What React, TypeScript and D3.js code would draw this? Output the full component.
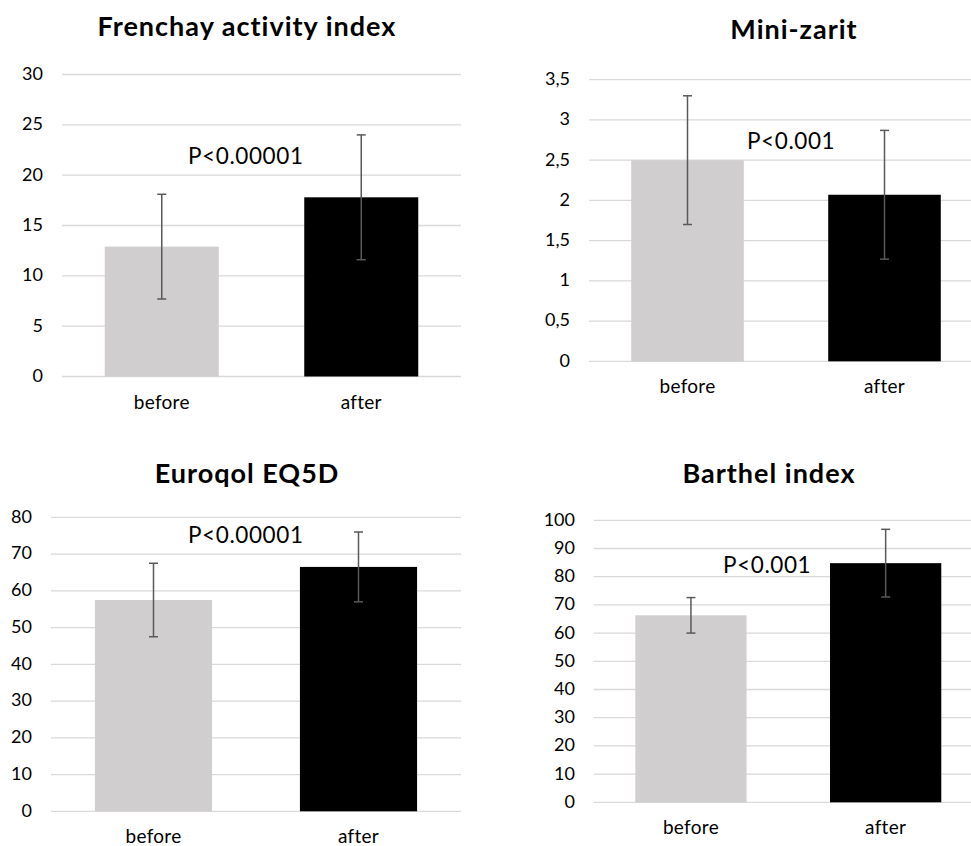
import React from "react";
import * as d3 from "d3";

const categories = ["before", "after"];

const frenchayMeans = [12.9, 17.8];
const frenchaySD = [5.2, 6.2];
const zaritMeans = [2.5, 2.07];
const zaritSD = [0.8, 0.8];
const euroqolMeans = [57.5, 66.5];
const euroqolSD = [10, 9.5];
const barthelMeans = [66.3, 84.8];
const barthelSD = [6.3, 12];

const titles = ["Frenchay activity index", "Mini-zarit", "Euroqol EQ5D", "Barthel index"];
const pLabels = ["P<0.00001", "P<0.001", "P<0.00001", "P<0.001"];
const yMaxes = [30, 3.5, 80, 100];
const yTickSteps = [5, 0.5, 10, 10];

const barColors = ["#D0CECE", "#000000"];
const FONT = "Lato, 'Noto Sans', sans-serif";

const commaLocale = d3.formatLocale({ decimal: ",", thousands: ".", grouping: [3], currency: ["", ""] });
const fmt = commaLocale.format(".1~f");

type Layout = {
  x0: number; x1: number; yTop: number; yBottom: number;
  titleX: number; titleY: number; tickRight: number;
  pX: number; pY: number; catY: number;
};

const layouts: Layout[] = [
  { x0: 62, x1: 461, yTop: 74.5, yBottom: 376.5, titleX: 247, titleY: 36, tickRight: 43, pX: 188, pY: 164, catY: 409 },
  { x0: 589, x1: 983, yTop: 79.7, yBottom: 361.3, titleX: 794, titleY: 39, tickRight: 570, pX: 747, pY: 149, catY: 393 },
  { x0: 51, x1: 461, yTop: 517.3, yBottom: 811.3, titleX: 247, titleY: 483, tickRight: 32, pX: 188, pY: 543, catY: 843 },
  { x0: 593.6, x1: 983, yTop: 520.3, yBottom: 802.3, titleX: 769, titleY: 482.7, tickRight: 575, pX: 723, pY: 573, catY: 834 },
];

const panelMeans = [frenchayMeans, zaritMeans, euroqolMeans, barthelMeans];
const panelSDs = [frenchaySD, zaritSD, euroqolSD, barthelSD];

function Panel({ idx }: { idx: number }) {
  const L = layouts[idx];
  const means = panelMeans[idx];
  const sds = panelSDs[idx];
  const yMax = yMaxes[idx];
  const step = yTickSteps[idx];
  const gap = 0.75 / 1.75;
  const x = d3.scaleBand<string>().domain(categories).range([L.x0, L.x1]).paddingInner(gap).paddingOuter(gap / 2);
  const y = d3.scaleLinear().domain([0, yMax]).range([L.yBottom, L.yTop]);
  const ticks = d3.range(0, yMax + step / 2, step);
  const cap = 4.5;
  return (
    <g>
      <text x={L.titleX} y={L.titleY} textAnchor="middle" fontFamily={FONT} fontWeight="bold" fontSize={27} letterSpacing={1} fill="#000">
        {titles[idx]}
      </text>
      {ticks.map((t) => (
        <g key={t}>
          <line x1={L.x0} x2={L.x1} y1={y(t)} y2={y(t)} stroke="#D9D9D9" strokeWidth={1.3} />
          <text x={L.tickRight} y={y(t)} dy="0.3em" textAnchor="end" fontFamily={FONT} fontSize={18} fill="#000">
            {fmt(t)}
          </text>
        </g>
      ))}
      {categories.map((c, i) => {
        const bx = x(c)!;
        const bw = x.bandwidth();
        const cx = bx + bw / 2;
        return (
          <g key={c}>
            <rect x={bx} y={y(means[i])} width={bw} height={y(0) - y(means[i])} fill={barColors[i]} />
            <line x1={cx} x2={cx} y1={y(means[i] + sds[i])} y2={y(means[i] - sds[i])} stroke="#595959" strokeWidth={1.5} />
            <line x1={cx - cap} x2={cx + cap} y1={y(means[i] + sds[i])} y2={y(means[i] + sds[i])} stroke="#595959" strokeWidth={1.5} />
            <line x1={cx - cap} x2={cx + cap} y1={y(means[i] - sds[i])} y2={y(means[i] - sds[i])} stroke="#595959" strokeWidth={1.5} />
            <text x={cx} y={L.catY} textAnchor="middle" fontFamily={FONT} fontSize={19} letterSpacing={0.3} fill="#000">
              {c}
            </text>
          </g>
        );
      })}
      <text x={L.pX} y={L.pY} fontFamily={FONT} fontSize={22.5} letterSpacing={0.6} fill="#000">
        {pLabels[idx]}
      </text>
    </g>
  );
}

export default function App() {
  return (
    <svg
      width={971}
      height={846}
      style={{ position: "absolute", left: 0, top: 0, background: "#fff" }}
    >
      <rect width={971} height={846} fill="#fff" />
      {[0, 1, 2, 3].map((i) => (
        <Panel key={i} idx={i} />
      ))}
    </svg>
  );
}
